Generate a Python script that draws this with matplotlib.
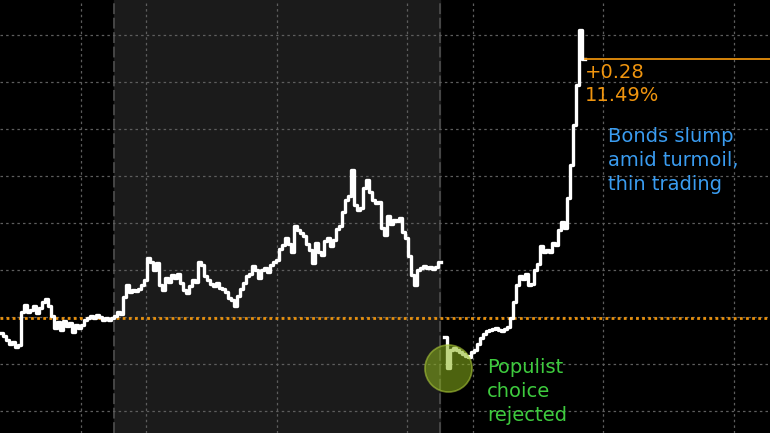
import numpy as np
import matplotlib.pyplot as plt

# bond yield (%), one value per session; nan = weekend gap before the vote
yields = [
    10.907, 10.901, 10.892, 10.884, 10.888, 10.877, 10.882, 10.952, 10.967, 10.952,
    10.956, 10.964, 10.950, 10.960, 10.973, 10.979, 10.964, 10.943, 10.918, 10.930,
    10.913, 10.933, 10.922, 10.928, 10.909, 10.924, 10.918, 10.924, 10.935, 10.939,
    10.943, 10.939, 10.945, 10.941, 10.935, 10.939, 10.935, 10.939, 10.943, 10.952,
    10.947, 10.984, 11.009, 10.994, 10.999, 10.996, 11.001, 11.009, 11.020, 11.067,
    11.058, 11.041, 11.056, 11.009, 10.999, 11.024, 11.016, 11.030, 11.024, 11.033,
    11.013, 10.999, 10.992, 11.007, 11.020, 11.016, 11.058, 11.052, 11.028, 11.020,
    11.011, 11.007, 11.013, 11.003, 11.001, 10.994, 10.981, 10.977, 10.964, 10.986,
    11.001, 11.013, 11.028, 11.033, 11.050, 11.041, 11.024, 11.041, 11.045, 11.037,
    11.052, 11.058, 11.062, 11.086, 11.094, 11.109, 11.096, 11.079, 11.135, 11.126,
    11.120, 11.113, 11.096, 11.084, 11.056, 11.099, 11.079, 11.073, 11.103, 11.109,
    11.092, 11.105, 11.128, 11.135, 11.164, 11.190, 11.198, 11.254, 11.179, 11.169,
    11.173, 11.215, 11.233, 11.207, 11.190, 11.184, 11.186, 11.131, 11.116, 11.156,
    11.139, 11.147, 11.145, 11.152, 11.122, 11.109, 11.071, 11.030, 11.009, 11.041,
    11.045, 11.050, 11.045, 11.047, 11.043, 11.047, 11.058, np.nan, 10.899, 10.833,
    10.871, 10.875, 10.871, 10.867, 10.862, 10.858, 10.856, 10.867, 10.871, 10.884,
    10.896, 10.905, 10.911, 10.913, 10.916, 10.918, 10.913, 10.911, 10.916, 10.920,
    10.939, 10.973, 11.009, 11.028, 11.022, 11.033, 11.009, 11.011, 11.041, 11.054,
    11.092, 11.079, 11.084, 11.079, 11.099, 11.094, 11.126, 11.143, 11.131, 11.194,
    11.264, 11.350, 11.435, 11.552, 11.490, 11.490,
]
last_value = 11.49
change_label = "+0.28"
last_label = "11.49%"
ref_level = 10.939
grid_levels = [10.74, 10.84, 10.94, 11.04, 11.14, 11.24, 11.34, 11.44, 11.54]
grid_days = [27, 48.67, 92.33, 135.67, 157.67, 201, 244.67]
shade_span = (38, 146.7)
vote_day = 149.3
vote_yield = 10.833

x = np.arange(len(yields))

fig = plt.figure(figsize=(7.7, 4.33), dpi=100, facecolor="black")
ax = fig.add_axes([0, 0, 1, 1], facecolor="black")
ax.set_xlim(0, 770 / 3)
ax.set_ylim(11.6155 - 433 / 470, 11.6155)
ax.axis("off")

ax.axvspan(*shade_span, color="#1b1b1b", zorder=0)
for s in shade_span:
    ax.axvline(s, color="#4a4a4a", lw=1.3, dashes=(6, 2), zorder=1)

for g in grid_levels:
    ax.axhline(g, color="#5e5e5e", lw=0.9, dashes=(2, 2.5), zorder=1)
for d in grid_days:
    ax.axvline(d, color="#5e5e5e", lw=0.9, dashes=(2, 2.5), zorder=1)

ax.axhline(ref_level, color="#e8900c", lw=2, dashes=(1, 1.2), zorder=2)

ax.plot(x, yields, color="white", lw=2.4, drawstyle="steps-post", zorder=3)
ax.plot([len(yields) - 1, 770 / 3], [last_value, last_value],
        color="#e8900c", lw=1.3, zorder=3)

ax.scatter([vote_day], [vote_yield], s=1150, facecolor="#8db51c", alpha=0.55,
           edgecolor="#b4d23c", linewidth=1.2, zorder=4)

ax.text(195, 11.481, change_label + "\n" + last_label, color="#f0950f",
        fontsize=14, va="top", ha="left", linespacing=1.25)
ax.text(202.7, 11.346, "Bonds slump\namid turmoil,\nthin trading", color="#3a9cf0",
        fontsize=14, va="top", ha="left", linespacing=1.33)
ax.text(162.3, 10.853, "Populist\nchoice\nrejected", color="#3ecb3e",
        fontsize=14, va="top", ha="left", linespacing=1.32)

fig.savefig("out.png", dpi=100, facecolor="black")
